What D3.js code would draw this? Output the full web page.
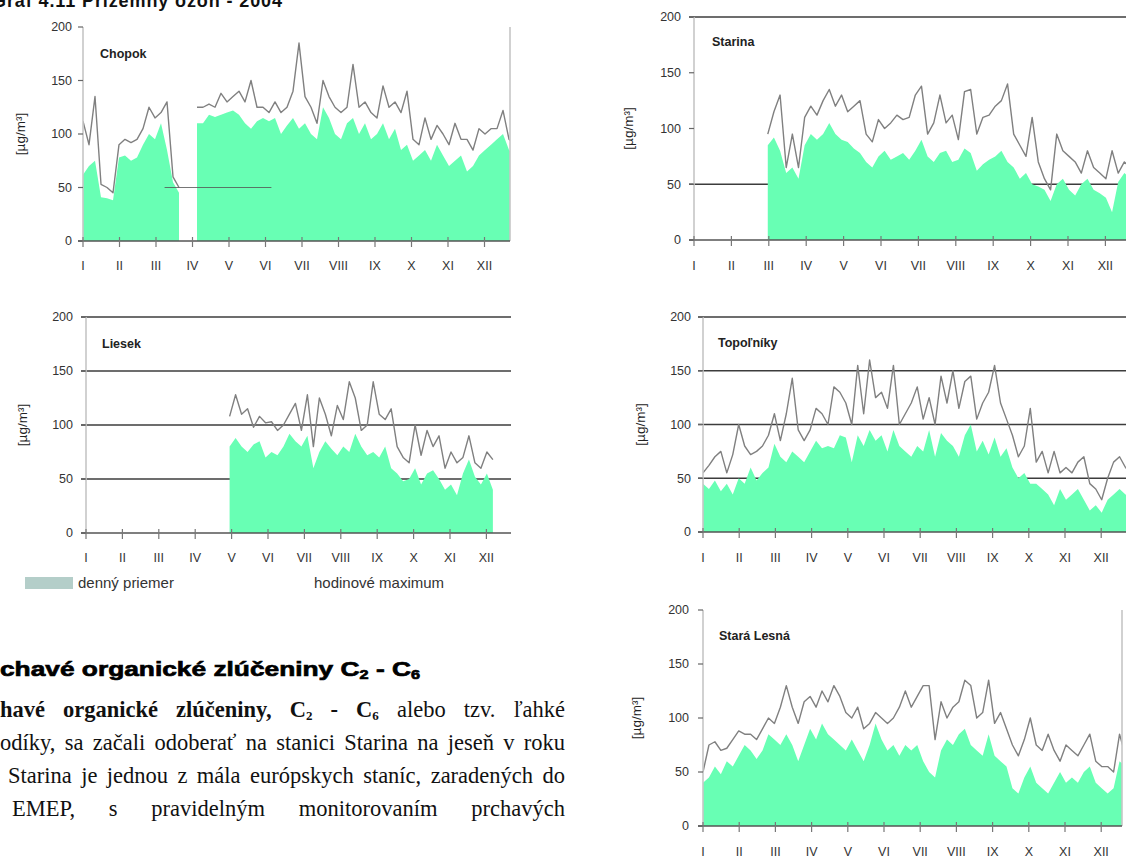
<!DOCTYPE html>
<html><head><meta charset="utf-8">
<script src="https://cdn.jsdelivr.net/npm/d3@7"></script>
<style>body{margin:0;background:#fff}svg{display:block}</style>
</head><body>
<svg id="c" width="1126" height="860"></svg>
<script>
const months = ["I","II","III","IV","V","VI","VII","VIII","IX","X","XI","XII"];
const yTickValues = [0,50,100,150,200];
const sampleStepDays = 5;
const N = null;

const chopokMean = [62,70,75,41,40,38,78,80,75,78, 90,100,95,110,85,55,45,N,N,110, 110,118,116,118,120,122,118,110,105,112, 115,112,115,100,108,115,105,110,100,95, 125,115,100,95,110,115,100,110,95,100, 110,95,105,85,90,75,80,85,75,90, 80,70,75,80,65,70,80,85,90,95, 100,85,80];
const chopokMax  = [112,90,135,53,50,45,90,95,92,95, 105,125,115,120,130,60,50,N,N,125, 125,128,125,138,130,135,140,130,150,125, 125,120,130,120,125,140,185,135,125,110, 150,135,125,120,125,165,125,130,120,115, 145,125,130,120,140,95,90,115,95,108, 100,90,110,95,95,85,105,100,105,105, 122,95,90];

const lieseMean = [N,N,N,N,N,N,N,N,N,N, N,N,N,N,N,N,N,N,N,N, N,N,N,N,80,88,80,75,82,85, 70,75,72,80,92,85,80,90,60,75, 85,78,72,80,75,92,80,72,75,70, 80,60,55,48,50,60,45,55,58,50, 40,45,35,55,68,52,45,55,40,N, N,N,N];
const lieseMax  = [N,N,N,N,N,N,N,N,N,N, N,N,N,N,N,N,N,N,N,N, N,N,N,N,108,128,110,115,98,108, 102,103,95,100,110,120,95,128,80,125, 110,90,118,105,140,125,95,100,140,110, 105,115,80,70,65,100,72,95,80,90, 60,75,65,70,90,65,60,75,68,N, N,N,N];

const starinaMean = [N,N,N,N,N,N,N,N,N,N, N,N,85,92,80,60,65,55,85,95, 90,95,105,95,90,88,82,78,70,65, 75,80,72,75,78,72,80,90,75,70, 78,80,70,72,82,78,62,68,72,75, 80,70,65,55,60,50,48,45,35,50, 55,45,40,50,55,45,42,38,25,52, 60,55,50];
const starinaMax  = [N,N,N,N,N,N,N,N,N,N, N,N,95,115,130,65,95,65,110,120, 112,125,135,120,130,115,120,125,95,88, 108,100,105,112,108,110,130,138,95,105, 130,105,112,90,133,135,95,110,112,120, 125,140,95,85,75,110,70,55,45,95, 80,75,70,60,80,65,60,55,80,60, 70,65,60];

const topolMean = [45,40,48,38,45,35,50,45,60,48, 55,60,82,70,65,75,70,65,75,85, 78,80,78,90,88,65,90,80,95,85, 90,75,95,80,75,70,80,75,95,70, 92,85,80,70,90,100,75,85,72,88, 70,78,60,50,55,45,45,40,35,25, 40,30,35,40,30,20,25,18,30,35, 40,35,30];
const topolMax  = [55,62,70,75,55,72,100,80,72,75, 80,90,110,85,110,143,95,85,95,115, 110,100,135,130,120,100,155,110,160,125, 130,115,155,100,110,120,135,105,125,100, 145,120,150,115,140,145,105,120,130,155, 120,105,90,70,80,115,65,75,55,75, 55,60,55,65,70,45,40,30,50,65, 70,60,55];

const staraMean = [40,45,55,48,60,55,65,75,70,62, 70,85,80,75,85,75,60,75,90,80, 95,85,80,75,70,80,70,60,75,95, 80,70,75,65,75,70,75,60,50,45, 70,80,75,85,90,75,70,65,85,65, 60,55,35,30,45,55,40,35,30,40, 50,40,45,40,50,55,40,35,30,35, 60,55,50];
const staraMax  = [50,75,78,70,72,80,88,85,85,80, 90,100,95,110,130,110,95,115,120,110, 125,115,130,120,105,100,110,90,95,105, 100,95,100,110,125,110,120,130,130,80, 115,100,110,115,135,130,100,105,135,95, 105,90,75,65,80,100,75,70,85,70, 60,75,70,65,75,85,60,55,55,50, 85,65,60];

const charts = [
  {name:"Chopok", mean:chopokMean, max:chopokMax, x0:83, ms:36.5, xEnd:510, yTop:27, yBot:241, grid:[], rightLine:true, labR:72, yLabX:20, tX:100, tY:58, xLabY:270, seg:[68,157]},
  {name:"Liesek", mean:lieseMean, max:lieseMax, x0:86, ms:36.4, xEnd:511, yTop:317, yBot:533, grid:[50,100,150,200], rightLine:false, labR:73, yLabX:22, tX:102, tY:348, xLabY:562},
  {name:"Starina", mean:starinaMean, max:starinaMax, x0:694, ms:37.4, xEnd:1126, yTop:17, yBot:240, grid:[50,200], rightLine:false, labR:681, yLabX:628, tX:712, tY:46, xLabY:270},
  {name:"Topoľníky", mean:topolMean, max:topolMax, x0:703, ms:36.2, xEnd:1126, yTop:317, yBot:532, grid:[50,100,150,200], rightLine:false, labR:691, yLabX:640, tX:718, tY:347, xLabY:562},
  {name:"Stará Lesná", mean:staraMean, max:staraMax, x0:703, ms:36.2, xEnd:1122, yTop:610, yBot:826, grid:[], rightLine:true, labR:689, yLabX:636, tX:719, tY:640, xLabY:856}
];

const svg = d3.select("#c");
svg.append("rect").attr("width",1126).attr("height",860).attr("fill","#fff");
const defs = svg.append("defs");
const sans = "'Liberation Sans', Arial, Helvetica, sans-serif";
const serif = "'Liberation Serif', 'Times New Roman', serif";

charts.forEach((c, ci) => {
  const x = d3.scaleLinear().domain([0, 365]).range([c.x0, c.x0 + 12*c.ms]);
  const y = d3.scaleLinear().domain([0, 200]).range([c.yBot, c.yTop]);
  const g = svg.append("g");
  const clipId = "clip" + ci;
  defs.append("clipPath").attr("id", clipId).append("rect")
    .attr("x", c.x0).attr("y", c.yTop - 5).attr("width", c.xEnd - c.x0).attr("height", c.yBot - c.yTop + 5);

  g.selectAll(".grid").data(c.grid).join("line")
    .attr("x1", c.x0 - 5).attr("x2", c.xEnd)
    .attr("y1", d => y(d)).attr("y2", d => y(d))
    .attr("stroke", "#3c3c3c").attr("stroke-width", 1.6);

  const pts = c.mean.map((v, i) => ({d: i*sampleStepDays, v}));
  const ptsMax = c.max.map((v, i) => ({d: i*sampleStepDays, v}));
  const area = d3.area().defined(p => p.v != null)
    .x(p => x(p.d)).y0(y(0)).y1(p => y(p.v)).curve(d3.curveLinear);
  const line = d3.line().defined(p => p.v != null)
    .x(p => x(p.d)).y(p => y(p.v)).curve(d3.curveLinear);

  const plot = g.append("g").attr("clip-path", `url(#${clipId})`);
  plot.append("path").attr("d", area(pts)).attr("fill", "#68ffb4");
  plot.append("path").attr("d", line(ptsMax)).attr("fill", "none")
    .attr("stroke", "#808080").attr("stroke-width", 1.4).attr("stroke-linejoin", "round");

  if (c.seg) {
    g.append("line").attr("x1", x(c.seg[0])).attr("x2", x(c.seg[1]))
      .attr("y1", y(50)).attr("y2", y(50)).attr("stroke", "#555").attr("stroke-width", 1.2).attr("opacity", 0.8);
  }

  g.append("line").attr("x1", c.x0).attr("x2", c.x0).attr("y1", c.yTop).attr("y2", c.yBot)
    .attr("stroke", "#c6c6c6").attr("stroke-width", 1.6);
  if (c.rightLine) {
    g.append("line").attr("x1", c.xEnd).attr("x2", c.xEnd).attr("y1", c.yTop).attr("y2", c.yBot)
      .attr("stroke", "#c6c6c6").attr("stroke-width", 1.6);
  }
  g.selectAll(".yt").data(yTickValues).join("line")
    .attr("x1", c.x0 - 5).attr("x2", c.x0).attr("y1", d => y(d)).attr("y2", d => y(d))
    .attr("stroke", "#666").attr("stroke-width", 1.2);
  g.append("line").attr("x1", c.x0 - 5).attr("x2", c.xEnd).attr("y1", y(0)).attr("y2", y(0))
    .attr("stroke", "#555").attr("stroke-width", 1.6);

  g.selectAll(".yl").data(yTickValues).join("text")
    .attr("x", c.labR).attr("y", d => y(d)).attr("dy", "0.35em")
    .attr("text-anchor", "end").attr("font-family", sans).attr("font-size", 12.5)
    .attr("fill", "#333").text(d => d);

  const monthDays = months.map((m, i) => i*365/12);
  g.selectAll(".xt").data(monthDays).join("line")
    .attr("x1", d => x(d)).attr("x2", d => x(d)).attr("y1", y(0) - 4).attr("y2", y(0) + 6)
    .attr("stroke", "#777").attr("stroke-width", 1.2);
  g.selectAll(".xl").data(months).join("text")
    .attr("x", (m, i) => x(monthDays[i])).attr("y", c.xLabY)
    .attr("text-anchor", "middle").attr("font-family", sans).attr("font-size", 12.5)
    .attr("fill", "#333").text(m => m);

  g.append("text").attr("x", c.tX).attr("y", c.tY).attr("font-family", sans)
    .attr("font-size", 12.5).attr("font-weight", "bold").attr("fill", "#222").text(c.name);

  const ym = (c.yTop + c.yBot) / 2;
  g.append("text").attr("transform", `translate(${c.yLabX},${ym}) rotate(-90)`)
    .attr("text-anchor", "middle").attr("dy", "0.35em").attr("font-family", sans)
    .attr("font-size", 13.5).attr("fill", "#222").text("[µg/m³]");
});

// legend
svg.append("rect").attr("x", 25).attr("y", 577).attr("width", 48).attr("height", 12).attr("fill", "#b4cec9");
svg.append("text").attr("x", 78).attr("y", 588).attr("font-family", sans).attr("font-size", 15)
  .attr("fill", "#333").text("denný priemer");
svg.append("text").attr("x", 314).attr("y", 588).attr("font-family", sans).attr("font-size", 15)
  .attr("fill", "#333").text("hodinové maximum");

// top caption (cut off by page edge as in the scan)
svg.append("text").attr("x", -8).attr("y", 7).attr("font-family", sans).attr("font-weight", "bold")
  .attr("font-size", 18).attr("fill", "#111").attr("textLength", 290).attr("lengthAdjust", "spacing")
  .text("Graf 4.11 Prízemný ozón - 2004");

// heading
const h = svg.append("text").attr("x", 0).attr("y", 676).attr("font-family", sans)
  .attr("font-weight", "bold").attr("font-size", 21).attr("fill", "#000")
  .attr("stroke", "#000").attr("stroke-width", 0.7)
  .attr("textLength", 420).attr("lengthAdjust", "spacingAndGlyphs");
h.append("tspan").text("chavé organické zlúčeniny C");
h.append("tspan").attr("font-size", 13).attr("dy", 3).text("2");
h.append("tspan").attr("dy", -3).text(" - C");
h.append("tspan").attr("font-size", 13).attr("dy", 3).text("6");

function justify(sel, x1) {
  const node = sel.node();
  const len = node.getComputedTextLength();
  const spaces = (node.textContent.match(/ /g) || []).length;
  const x0 = +sel.attr("x");
  if (spaces) sel.attr("word-spacing", Math.max(0, ((x1 - x0) - len) / spaces));
}
function bodyLine(xs, ys) {
  return svg.append("text").attr("x", xs).attr("y", ys).attr("font-family", serif)
    .attr("font-size", 22.5).attr("fill", "#111");
}
const l1 = bodyLine(0, 717);
l1.append("tspan").attr("font-weight", "bold").text("havé organické zlúčeniny, C");
l1.append("tspan").attr("font-weight", "bold").attr("font-size", 13).attr("dy", 3).text("2");
l1.append("tspan").attr("font-weight", "bold").attr("dy", -3).text(" - C");
l1.append("tspan").attr("font-weight", "bold").attr("font-size", 13).attr("dy", 3).text("6");
l1.append("tspan").attr("dy", -3).text(" alebo tzv. ľahké");
justify(l1, 565);
const l2 = bodyLine(0, 750).text("odíky, sa začali odoberať na stanici Starina na jeseň v roku");
justify(l2, 565);
const l3 = bodyLine(8, 783).text("Starina je jednou z mála európskych staníc, zaradených do");
justify(l3, 565);
const l4 = bodyLine(12, 816).text("EMEP, s pravidelným monitorovaním prchavých");
justify(l4, 565);
</script>
</body></html>
